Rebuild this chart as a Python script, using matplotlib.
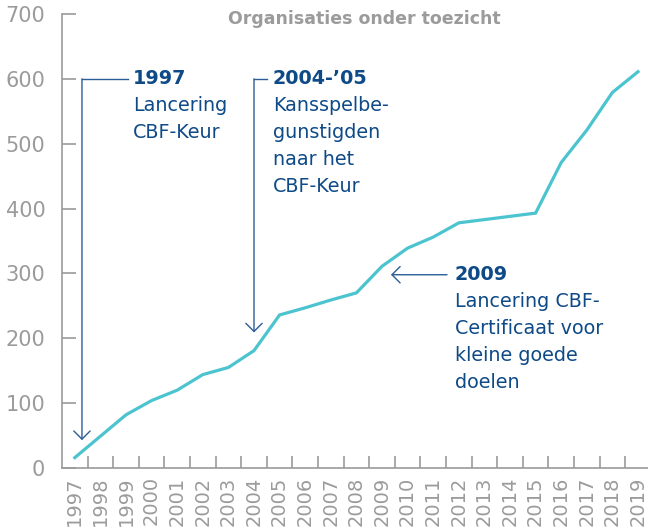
import matplotlib.pyplot as plt
import numpy as np

# data
years = list(range(1997, 2020))
organisaties = [16, 49, 82, 104, 120, 144, 155, 181, 236, 247, 259, 270,
                311, 339, 356, 378, 383, 388, 393, 471, 521, 579, 611]

title = "Organisaties onder toezicht"
notes = [
    # (header, body lines, text x, text y)
    ("1997", ["Lancering", "CBF-Keur"], 1999.27, 600),
    ("2004-\u201905", ["Kansspelbe-", "gunstigden", "naar het", "CBF-Keur"], 2004.74, 600),
    ("2009", ["Lancering CBF-", "Certificaat voor", "kleine goede", "doelen"], 2011.85, 298),
]

GRAY = "#9b9b9b"
DARK_BLUE = "#0e4a87"
ARROW_BLUE = "#2c5d96"
TEAL = "#4cc4cf"
LINE_STEP = 41.6  # 27 px in data units

plt.rcParams['font.family'] = ['DejaVu Sans']
fig = plt.figure(figsize=(6.48, 5.29), dpi=100)
ax = fig.add_axes([62 / 648, 61 / 529, 1 - 62 / 648, 454 / 529])

ax.plot(years, organisaties, color=TEAL, lw=2.3, solid_joinstyle='miter', zorder=3)

ax.set_xlim(1996.5, 1996.5 + 586 / 25.6)
ax.set_ylim(0, 700)

for s in ['top', 'right']:
    ax.spines[s].set_visible(False)
for s in ['left', 'bottom']:
    ax.spines[s].set_color(GRAY)
    ax.spines[s].set_linewidth(1.2)

ax.set_yticks(range(0, 701, 100))
ax.tick_params(axis='y', direction='in', length=10, width=1.2, color=GRAY,
               labelcolor=GRAY, labelsize=15, pad=12)
ax.set_xticks(years)
ax.set_xticklabels([str(y) for y in years], rotation=90)
ax.tick_params(axis='x', which='major', length=0, labelcolor=GRAY, labelsize=14, pad=6)
ax.set_xticks(np.arange(1997.5, 2019.5, 1.0), minor=True)
ax.tick_params(axis='x', which='minor', direction='in', length=8.6, width=1.2, color=GRAY)

ax.text(2008.3, 693, title, ha='center', va='center', fontsize=12.5,
        fontweight='bold', color=GRAY)

arrow = dict(arrowstyle='->,head_length=0.42,head_width=0.42', color=ARROW_BLUE,
             lw=1.0, mutation_scale=14, shrinkA=0, shrinkB=0)

# 1997 connector
ax.plot([1997.28, 1999.08], [600, 600], color=ARROW_BLUE, lw=1.0)
ax.annotate("", xy=(1997.28, 43), xytext=(1997.28, 600), arrowprops=arrow)
# 2004-'05 connector
ax.plot([2004.0, 2004.51], [600, 600], color=ARROW_BLUE, lw=1.0)
ax.annotate("", xy=(2004.0, 209), xytext=(2004.0, 600), arrowprops=arrow)
# 2009 arrow
ax.annotate("", xy=(2009.35, 298), xytext=(2011.54, 298), arrowprops=arrow)

for header, body, tx, ty in notes:
    ax.text(tx, ty, header, ha='left', va='center', fontsize=13.8,
            fontweight='bold', color=DARK_BLUE)
    for i, line in enumerate(body):
        ax.text(tx, ty - (i + 1) * LINE_STEP, line, ha='left', va='center',
                fontsize=13.8, color=DARK_BLUE)

fig.savefig("out.png", dpi=100)
